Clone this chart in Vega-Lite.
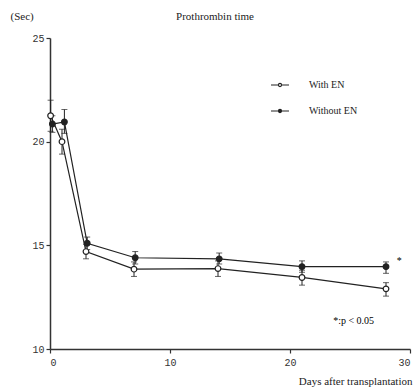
{
  "$schema": "https://vega.github.io/schema/vega-lite/v6.json",
  "width": 360,
  "height": 311,
  "autosize": "none",
  "padding": {"left": 50, "top": 38, "right": 9, "bottom": 43},
  "background": "white",
  "config": {
    "view": {"stroke": null},
    "font": "Liberation Serif",
    "axis": {"grid": false, "domainColor": "#333", "domainWidth": 1.5, "tickColor": "#333", "tickWidth": 1.2, "tickSize": 4, "labelFont": "Liberation Mono", "labelFontSize": 10, "labelColor": "#333", "titleFont": "Liberation Serif", "titleFontWeight": "normal", "titleColor": "#222", "titleFontSize": 11}
  },
  "title": {"text": "Prothrombin time", "font": "Liberation Serif", "fontSize": 11, "fontWeight": "normal", "color": "#222", "anchor": "middle", "dx": -15, "offset": -12},
  "datasets": {
    "pts": [
      {"series": "With EN", "day": 0.05, "mean": 21.25, "lo": 20.5, "hi": 22.0},
      {"series": "With EN", "day": 1.0, "mean": 20.0, "lo": 19.4, "hi": 20.6},
      {"series": "With EN", "day": 3.0, "mean": 14.7, "lo": 14.35, "hi": 15.05},
      {"series": "With EN", "day": 7.0, "mean": 13.85, "lo": 13.5, "hi": 14.2},
      {"series": "With EN", "day": 14.0, "mean": 13.88, "lo": 13.5, "hi": 14.25},
      {"series": "With EN", "day": 21.0, "mean": 13.45, "lo": 13.08, "hi": 13.8},
      {"series": "With EN", "day": 28.0, "mean": 12.9, "lo": 12.55, "hi": 13.2},
      {"series": "Without EN", "day": 0.2, "mean": 20.85, "lo": 20.45, "hi": 21.25},
      {"series": "Without EN", "day": 1.2, "mean": 20.95, "lo": 20.4, "hi": 21.55},
      {"series": "Without EN", "day": 3.1, "mean": 15.1, "lo": 14.8, "hi": 15.4},
      {"series": "Without EN", "day": 7.1, "mean": 14.4, "lo": 14.1, "hi": 14.7},
      {"series": "Without EN", "day": 14.1, "mean": 14.35, "lo": 14.1, "hi": 14.63},
      {"series": "Without EN", "day": 21.0, "mean": 13.97, "lo": 13.7, "hi": 14.25},
      {"series": "Without EN", "day": 28.0, "mean": 13.97, "lo": 13.65, "hi": 14.2}
    ],
    "notes": [
      {"day": 28.9, "val": 14.25, "label": "*"},
      {"day": 23.6, "val": 11.35, "label": "*:p < 0.05"}
    ]
  },
  "layer": [
    {
      "data": {"name": "pts"},
      "mark": {"type": "line", "color": "#222", "strokeWidth": 1.2},
      "encoding": {
        "x": {"field": "day", "type": "quantitative", "scale": {"domain": [0, 30], "nice": false, "zero": false}, "axis": {"values": [0, 10, 20, 30], "title": "Days after transplantation", "titleAnchor": "end", "titleAlign": "right", "titleBaseline": "alphabetic", "titleX": 362, "titleY": 35, "labelPadding": 4}},
        "y": {"field": "mean", "type": "quantitative", "scale": {"domain": [10, 25], "nice": false, "zero": false}, "axis": {"values": [10, 15, 20, 25], "title": "(Sec)", "titleAngle": 0, "titleAlign": "left", "titleBaseline": "middle", "titleX": -40, "titleY": -22}},
        "detail": {"field": "series"}
      }
    },
    {
      "data": {"name": "pts"},
      "mark": {"type": "errorbar", "ticks": {"size": 6, "color": "#222", "strokeWidth": 1.2}, "rule": {"color": "#222", "strokeWidth": 1}},
      "encoding": {
        "x": {"field": "day", "type": "quantitative"},
        "y": {"field": "lo", "type": "quantitative", "title": "(Sec)"},
        "y2": {"field": "hi"}
      }
    },
    {
      "data": {"name": "pts"},
      "mark": {"type": "point", "shape": "circle", "stroke": "#222", "strokeWidth": 1.2, "opacity": 1, "filled": false, "size": 32},
      "encoding": {
        "x": {"field": "day", "type": "quantitative"},
        "y": {"field": "mean", "type": "quantitative"},
        "fill": {"field": "series", "type": "nominal", "scale": {"domain": ["With EN", "Without EN"], "range": ["white", "#222"]},
          "legend": {"title": null, "orient": "none", "legendX": 212, "legendY": 37, "symbolType": "M-1,0H-0.17M0.17,0H1M-0.17,0A0.17,0.17 0 1,1 0.17,0A0.17,0.17 0 1,1 -0.17,0", "symbolSize": 324, "symbolStrokeColor": "#222", "symbolStrokeWidth": 1.2, "symbolOffset": 8, "labelOffset": 19, "rowPadding": 11, "labelFont": "Liberation Serif", "labelFontSize": 10, "labelColor": "#222"}}
      }
    },
    {
      "data": {"name": "notes"},
      "mark": {"type": "text", "font": "Liberation Serif", "fontSize": 10, "color": "#000000", "align": "left", "baseline": "middle"},
      "encoding": {
        "x": {"field": "day", "type": "quantitative"},
        "y": {"field": "val", "type": "quantitative"},
        "text": {"field": "label"}
      }
    }
  ]
}
